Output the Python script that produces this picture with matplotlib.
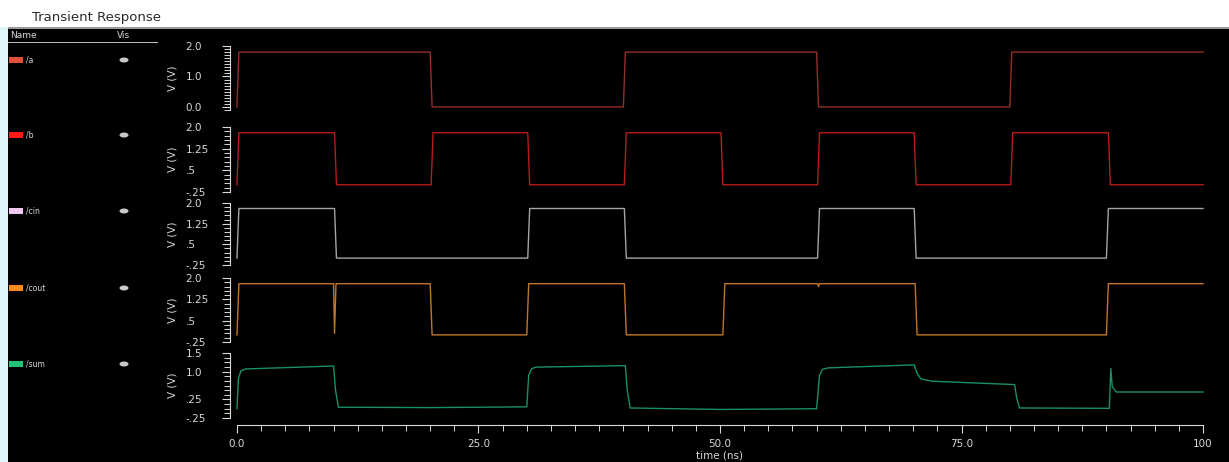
"""
Transient Response — full adder waveforms (a, b, cin, cout, sum)
Dark waveform-viewer style, five stacked strips sharing one time axis.
"""

import numpy as np
import matplotlib.pyplot as plt
from matplotlib.patches import Rectangle, Ellipse
from matplotlib.ticker import FixedLocator

W, H = 1229, 462

# breakpoints: time (ns) / voltage (V)
a_t = [0, 0.2, 20.0, 20.2, 40.0, 40.2, 60.0, 60.2, 80.0, 80.2, 100]
a_v = [0, 1.8, 1.8, 0.0, 0.0, 1.8, 1.8, 0.0, 0.0, 1.8, 1.8]

b_t = [0, 0.2, 10.1, 10.3, 20.1, 20.3, 30.1, 30.3, 40.1, 40.3, 50.1, 50.3,
       60.1, 60.3, 70.1, 70.3, 80.1, 80.3, 90.2, 90.4, 100]
b_v = [0, 1.8, 1.8, 0.0, 0.0, 1.8, 1.8, 0.0, 0.0, 1.8, 1.8, 0.0,
       0.0, 1.8, 1.8, 0.0, 0.0, 1.8, 1.8, 0.0, 0.0]

cin_t = [0, 0.2, 10.1, 10.3, 30.1, 30.3, 40.1, 40.3, 60.1, 60.3, 70.1, 70.3,
         90.0, 90.2, 100]
cin_v = [0, 1.8, 1.8, 0.0, 0.0, 1.8, 1.8, 0.0, 0.0, 1.8, 1.8, 0.0,
         0.0, 1.8, 1.8]

cout_t = [0, 0.2, 10.0, 10.1, 10.25, 20.0, 20.2, 30.0, 30.2, 40.1, 40.3,
          50.3, 50.5, 60.1, 60.2, 60.3, 70.2, 70.4, 90.0, 90.2, 100]
cout_v = [0, 1.8, 1.8, 0.05, 1.8, 1.8, 0.0, 0.0, 1.8, 1.8, 0.0,
          0.0, 1.8, 1.8, 1.7, 1.8, 1.8, 0.0, 0.0, 1.8, 1.8]

sum_t = [0, 0.15, 0.4, 0.9, 10.0, 10.2, 10.5, 20.0, 30.0, 30.2, 30.5, 31.0,
         40.2, 40.4, 40.7, 50.0, 60.0, 60.3, 60.6, 61.2, 70.1, 70.4, 70.8,
         72.0, 80.5, 80.7, 81.0, 90.3, 90.45, 90.6, 91.0, 100]
sum_v = [0.0, 0.8, 1.02, 1.07, 1.15, 0.5, 0.04, 0.03, 0.05, 0.9, 1.08, 1.12,
         1.16, 0.5, 0.02, -0.02, 0.0, 0.9, 1.06, 1.1, 1.18, 0.95, 0.8,
         0.74, 0.65, 0.3, 0.02, 0.01, 1.08, 0.6, 0.45, 0.45]

names = ["/a", "/b", "/cin", "/cout", "/sum"]
trace_colors = ["#92302a", "#b81c1c", "#aaa2aa", "#c0762a", "#1a8f6c"]
swatch_colors = ["#e0503c", "#ff1a1a", "#f2c8f2", "#ff8c1a", "#22c476"]

rail_ticks = [0.0, 1.0, 2.0]
rail_labels = ["0.0", "1.0", "2.0"]
mid_ticks = [-0.25, 0.5, 1.25, 2.0]
mid_labels = ["-.25", ".5", "1.25", "2.0"]
sum_ticks = [-0.25, 0.25, 1.0, 1.5]
sum_labels = ["-.25", ".25", "1.0", "1.5"]

time_ticks = [0, 25, 50, 75, 100]
time_labels = ["0.0", "25.0", "50.0", "75.0", "100"]

FG = "#d8d8d8"
X_LEFT, X_RIGHT = 230, 1210          # panel edges in pixels
T0, T1 = -0.72, 100.72               # so that 0 ns sits at x=237, 100 ns at 1203


def fx(px):
    return px / W


def fy(py):
    return 1 - py / H


def add_panel(fig, top, bottom, t, v, color, ylim, ticks, labels, minor_step):
    ax = fig.add_axes([fx(X_LEFT), fy(bottom), fx(X_RIGHT) - fx(X_LEFT), (bottom - top) / H])
    ax.set_facecolor("black")
    ax.plot(t, v, color=color, lw=1.0)
    ax.set_xlim(T0, T1)
    ax.set_ylim(*ylim)
    for s in ("top", "right", "bottom"):
        ax.spines[s].set_visible(False)
    ax.spines["left"].set_color(FG)
    ax.spines["left"].set_linewidth(0.8)
    ax.set_xticks([])
    ax.set_yticks(ticks, labels, ha="left")
    ax.yaxis.set_minor_locator(FixedLocator(np.arange(ylim[0], ylim[1] + 1e-6, minor_step)))
    ax.tick_params(axis="y", which="major", length=6, width=0.8, color=FG,
                   labelcolor=FG, labelsize=7.5, pad=26)
    ax.tick_params(axis="y", which="minor", length=4, width=0.7, color=FG)
    ax.set_ylabel("V (V)", color=FG, fontsize=7.5)
    ax.yaxis.set_label_coords(-0.054, 0.5)
    return ax


def draw_chrome(fig):
    # white header strip with title
    fig.patches.append(Rectangle((0, fy(27)), 1, 1 - fy(27), transform=fig.transFigure,
                                 facecolor="white", edgecolor="none", zorder=0))
    fig.patches.append(Rectangle((0, fy(28.5)), 1, 1.5 / H, transform=fig.transFigure,
                                 facecolor="#9a9a9a", edgecolor="none", zorder=0))
    # pale strip down the left edge
    fig.patches.append(Rectangle((0, 0), fx(8), fy(27), transform=fig.transFigure,
                                 facecolor="#dff6fa", edgecolor="none", zorder=0))
    fig.text(fx(32), fy(17), "Transient Response", fontsize=9.5, color="#2a2a2a",
             va="center", ha="left")

    # name / visibility list
    fig.text(fx(10), fy(36), "Name", fontsize=6.5, color=FG, va="center")
    fig.text(fx(117), fy(36), "Vis", fontsize=6.5, color=FG, va="center")
    fig.patches.append(Rectangle((fx(8), fy(43)), fx(150), 1 / H, transform=fig.transFigure,
                                 facecolor="#bdbdbd", edgecolor="none"))
    rows = [60, 135, 211, 288, 364]
    for y, name, c in zip(rows, names, swatch_colors):
        fig.patches.append(Rectangle((fx(9), fy(y + 3)), fx(14), 6 / H,
                                     transform=fig.transFigure, facecolor=c, edgecolor="none"))
        fig.text(fx(26), fy(y), name, fontsize=5.5, color=FG, va="center")
        fig.patches.append(Ellipse((fx(124), fy(y)), fx(9), 5 / H,
                                   transform=fig.transFigure, facecolor="#c8c8c8",
                                   edgecolor="none"))


def plot_transient():
    fig = plt.figure(figsize=(W / 100, H / 100), dpi=100)
    fig.patch.set_facecolor("black")
    draw_chrome(fig)

    add_panel(fig, 46, 110, a_t, a_v, trace_colors[0], (-0.1, 2.0), rail_ticks, rail_labels, 0.1)
    add_panel(fig, 127, 192, b_t, b_v, trace_colors[1], (-0.25, 2.0), mid_ticks, mid_labels, 0.15)
    add_panel(fig, 203, 265, cin_t, cin_v, trace_colors[2], (-0.25, 2.0), mid_ticks, mid_labels, 0.15)
    add_panel(fig, 278, 342, cout_t, cout_v, trace_colors[3], (-0.25, 2.0), mid_ticks, mid_labels, 0.15)
    add_panel(fig, 353, 418, sum_t, sum_v, trace_colors[4], (-0.25, 1.5), sum_ticks, sum_labels, 0.125)

    # shared time axis
    tax = fig.add_axes([fx(X_LEFT), fy(425), fx(X_RIGHT) - fx(X_LEFT), 0.001])
    tax.set_facecolor("none")
    tax.set_xlim(T0, T1)
    tax.set_yticks([])
    for s in ("top", "right", "left"):
        tax.spines[s].set_visible(False)
    tax.spines["bottom"].set_color(FG)
    tax.spines["bottom"].set_bounds(0, 100)
    tax.set_xticks(time_ticks, time_labels)
    tax.xaxis.set_minor_locator(FixedLocator(np.arange(0, 100.01, 2.5)))
    tax.tick_params(axis="x", which="major", length=6, width=0.8, color=FG,
                    labelcolor=FG, labelsize=7.5, pad=4)
    tax.tick_params(axis="x", which="minor", length=4, width=0.7, color=FG)
    tax.set_xlabel("time (ns)", color=FG, fontsize=7.5, labelpad=1)

    plt.savefig("out.png", dpi=100, facecolor=fig.get_facecolor())
    print("Saved → out.png")


if __name__ == "__main__":
    plot_transient()
